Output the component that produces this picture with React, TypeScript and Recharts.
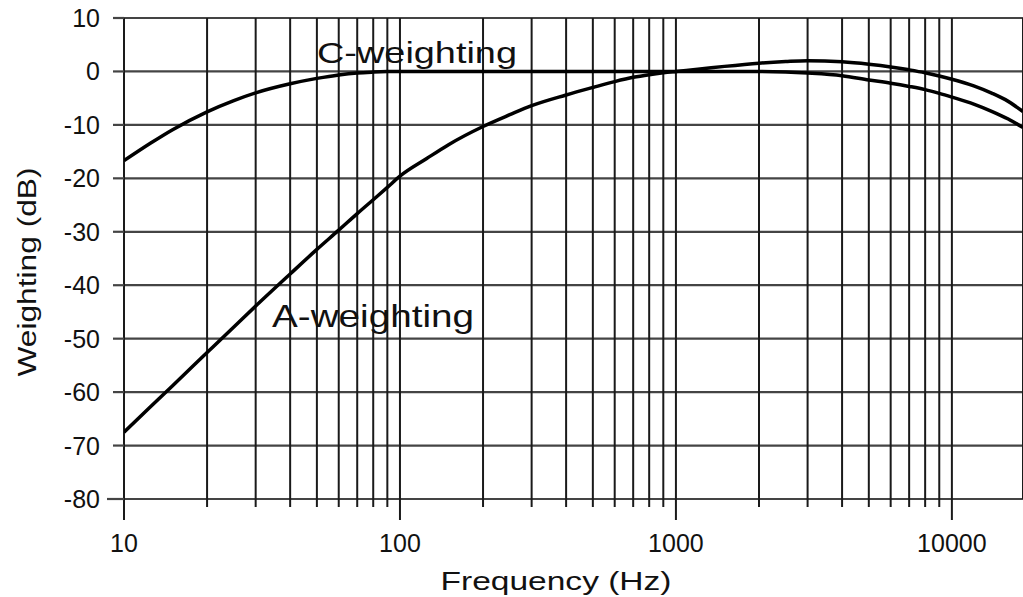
import { LineChart, Line, XAxis, YAxis, CartesianGrid } from 'recharts';

// frequencies (Hz) the curves were read at
const freqs = [
  10, 12.5, 15, 20, 25, 30, 40, 50, 60, 70, 80, 90, 100, 125, 150, 200, 250, 300, 400, 500, 600, 700, 800, 900,
  1000, 1200, 1500, 2000, 2500, 3000, 4000, 5000, 6000, 7000, 8000, 9000, 10000, 12000, 14000, 16000, 18100,
];

// A-weighting, dB
const aWeight = [
  -67.5, -62.7, -58.8, -52.6, -47.8, -43.9, -37.9, -33.3, -29.7, -26.6, -24.0, -21.7, -19.6, -16.3, -13.7,
  -10.3, -8.1, -6.4, -4.4, -3.0, -1.9, -1.1, -0.6, -0.25,
  0, 0.4, 0.95, 1.55, 1.85, 2.0, 1.8, 1.35, 0.85, 0.3, -0.25, -0.85, -1.45, -2.7, -4.1, -5.6, -7.5,
];

// C-weighting, dB
const cWeight = [
  -16.7, -13.4, -10.9, -7.55, -5.45, -4.0, -2.3, -1.3, -0.65, -0.28, -0.12, -0.03, 0, 0, 0,
  0, 0, 0, 0, 0, 0, 0, 0, 0,
  0, 0, 0, 0, -0.1, -0.3, -0.8, -1.6, -2.2, -2.8, -3.4, -4.1, -4.8, -6.1, -7.5, -8.9, -10.5,
];

const xTicks = [
  10, 20, 30, 40, 50, 60, 70, 80, 90,
  100, 200, 300, 400, 500, 600, 700, 800, 900,
  1000, 2000, 3000, 4000, 5000, 6000, 7000, 8000, 9000,
  10000,
];
const xLabels = [10, 100, 1000, 10000];
const yTicks = [10, 0, -10, -20, -30, -40, -50, -60, -70, -80];

const FONT = '"Liberation Sans", Arial, Helvetica, sans-serif';

const data = freqs.map((f, i) => ({ f, a: aWeight[i], c: cWeight[i] }));

const XTick = ({ x, y, payload }: any) => {
  const major = xLabels.includes(payload.value);
  return (
    <g>
      <line x1={x} x2={x} y1={y} y2={y + (major ? 21 : 8)} stroke="#1a1a1a" strokeWidth={2} />
      {major && (
        <text x={x} y={y + 53} textAnchor="middle" fontSize={25} fontFamily={FONT} fill="#111">
          {payload.value}
        </text>
      )}
    </g>
  );
};

const YTick = ({ x, y, payload }: any) => {
  const len = payload.value === -80 ? 17 : 11;
  return (
    <g>
      <line x1={x - len} x2={x} y1={y} y2={y} stroke="#444" strokeWidth={2.2} />
      <text x={x - 24} y={y} dy="0.36em" textAnchor="end" fontSize={25} fontFamily={FONT} fill="#111">
        {payload.value}
      </text>
    </g>
  );
};

export default function App() {
  return (
    <div style={{ position: 'absolute', left: 0, top: 0, width: 1023, height: 597, background: '#fff' }}>
      <LineChart width={1023} height={597} data={data} margin={{ top: 18, right: 0, bottom: 38, left: 0 }}>
        <CartesianGrid vertical={false} stroke="#444" strokeWidth={2.2} />
        <CartesianGrid horizontal={false} stroke="#1a1a1a" strokeWidth={2} />
        <XAxis
          dataKey="f"
          type="number"
          scale="log"
          domain={[10, 18100]}
          allowDataOverflow
          ticks={xTicks}
          interval={0}
          height={60}
          axisLine={false}
          tickLine={false}
          tickSize={0}
          tickMargin={0}
          tick={<XTick />}
        />
        <YAxis
          type="number"
          domain={[-80, 10]}
          ticks={yTicks}
          interval={0}
          width={124}
          axisLine={false}
          tickLine={false}
          tickSize={0}
          tickMargin={0}
          tick={<YTick />}
        />
        <Line type="monotone" dataKey="c" stroke="#000" strokeWidth={3.5} dot={false} isAnimationActive={false} />
        <Line type="monotone" dataKey="a" stroke="#000" strokeWidth={3.5} dot={false} isAnimationActive={false} />
        <text x={317} y={63} fontSize={30} fontFamily={FONT} fill="#111" textLength={200} lengthAdjust="spacingAndGlyphs">
          C-weighting
        </text>
        <text x={272} y={327} fontSize={32} fontFamily={FONT} fill="#111" textLength={202} lengthAdjust="spacingAndGlyphs">
          A-weighting
        </text>
        <text x={556} y={590} textAnchor="middle" fontSize={26} fontFamily={FONT} fill="#111" textLength={231} lengthAdjust="spacingAndGlyphs">
          Frequency (Hz)
        </text>
        <text
          transform="translate(36, 272) rotate(-90)"
          textAnchor="middle"
          fontSize={26}
          fontFamily={FONT}
          fill="#111"
          textLength={209}
          lengthAdjust="spacingAndGlyphs"
        >
          Weighting (dB)
        </text>
      </LineChart>
    </div>
  );
}
